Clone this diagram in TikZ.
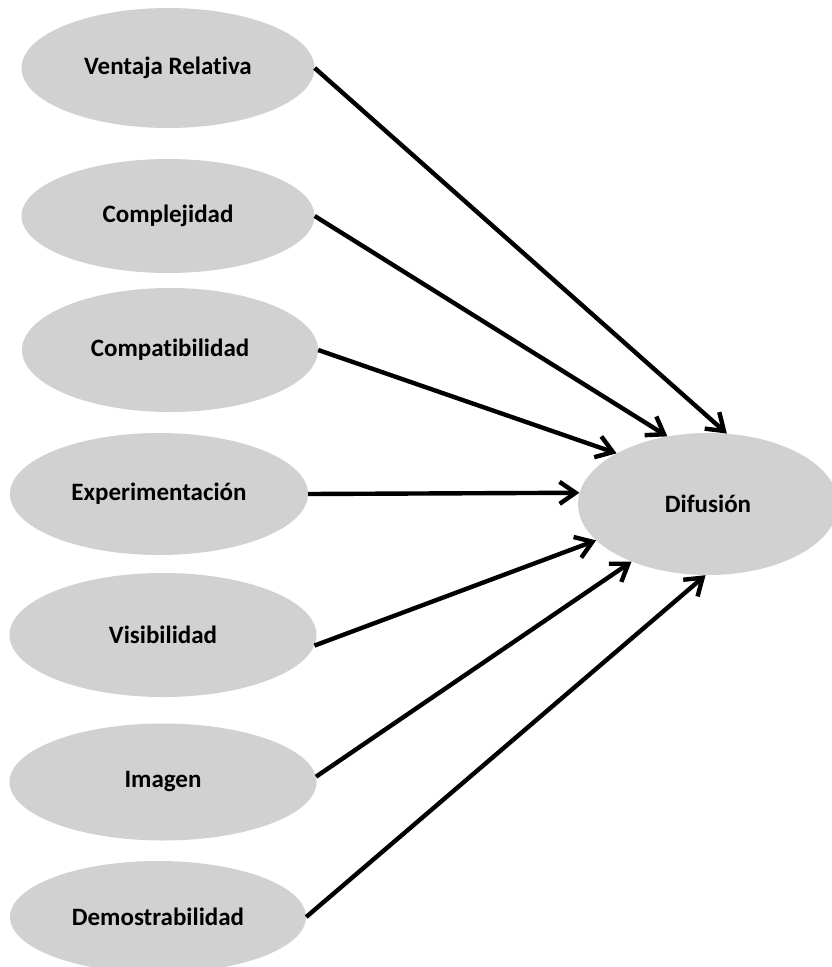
\documentclass[tikz,border=0pt]{standalone}
\usepackage{fontspec}
\setmainfont{Carlito}[Ligatures=NoCommon]
\usetikzlibrary{shapes.geometric,arrows.meta}
\definecolor{factorgray}{RGB}{209,209,209}
\tikzset{
  factor/.style={ellipse, fill=factorgray, draw=none, inner sep=0pt,
    font=\fontsize{25}{28}\selectfont\bfseries, text=black},
  link/.style={line width=4.4pt, -{Straight Barb[length=16pt,width=22pt]}},
}
\begin{document}
\begin{tikzpicture}[x=1pt,y=-1pt]
  \useasboundingbox (0,0) rectangle (832,967);
  \clip (0,0) rectangle (832,967);

  % factors on the left
  \node[factor, minimum width=293pt, minimum height=120pt] (vr)  at (168,68)  {Ventaja Relativa};
  \node[factor, minimum width=293pt, minimum height=114pt] (com) at (168,216) {Complejidad};
  \node[factor, minimum width=296pt, minimum height=124pt] (cpt) at (170,350) {Compatibilidad};
  \node[factor, minimum width=298pt, minimum height=122pt] (exp) at (159,494) {Experimentación};
  \node[factor, minimum width=307pt, minimum height=124pt] (vis) at (163,635) {Visibilidad};
  \node[factor, minimum width=307pt, minimum height=117pt] (img) at (163,782) {Imagen};
  \node[factor, minimum width=296pt, minimum height=112pt] (dem) at (158,917) {Demostrabilidad};

  % outcome on the right
  \node[factor, minimum width=260pt, minimum height=142pt] (dif) at (708,504) {Difusión};

  % influence arrows
  \draw[link] (vr.east)  -- (dif.75);
  \draw[link] (com.east) -- (dif.121);
  \draw[link] (cpt.east) -- (dif.151);
  \draw[link] (exp.east) -- (dif.175);
  \draw[link] (vis.-4)   -- (dif.198);
  \draw[link] (img.2)    -- (dif.217);
  \draw[link] (dem.east) -- (dif.268);
\end{tikzpicture}
\end{document}
